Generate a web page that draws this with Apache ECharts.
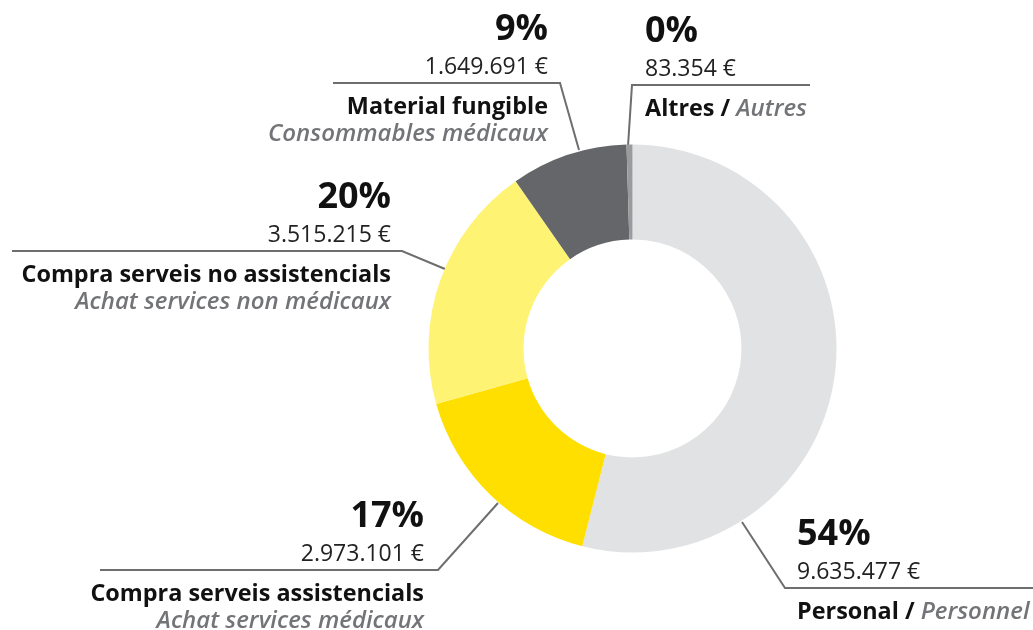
<!DOCTYPE html>
<html>
<head>
<meta charset="utf-8">
<script src="https://cdn.jsdelivr.net/npm/echarts@6/dist/echarts.min.js"></script>
<style>
html,body{margin:0;padding:0;background:#fff;}
#chart{width:1033px;height:630px;}
</style>
</head>
<body>
<div id="chart"></div>
<script>
// ---- data ----
const catNames = ['Personal', 'Compra serveis assistencials', 'Compra serveis no assistencials', 'Material fungible', 'Altres'];
const frNames = ['Personnel', 'Achat services médicaux', 'Achat services non médicaux', 'Consommables médicaux', 'Autres'];
const values = [9635477, 2973101, 3515215, 1649691, 83354];
const colors = ['#e1e2e3', '#ffdf00', '#fff374', '#646669', '#9a9b9c'];
const inlineFr = [true, false, false, false, true];

// ---- layout (label anchors) ----
const labelPos = [
  { L: 588, x: 797, align: 'left',  pts: [[742, 522], [785, 588], [1033, 588]] },
  { L: 570, x: 424, align: 'right', pts: [[498, 503], [438, 570], [100, 570]] },
  { L: 251, x: 391, align: 'right', pts: [[445, 269], [402, 251], [12, 251]] },
  { L: 83,  x: 548, align: 'right', pts: [[579, 150], [560, 83], [333, 83]] },
  { L: 85,  x: 645, align: 'left',  pts: [[628, 146], [632, 85], [810, 85]] }
];

const FONT = '"Open Sans", "Noto Sans", sans-serif';
const total = values.reduce((a, b) => a + b, 0);
function fmt(v) { return String(v).replace(/\B(?=(\d{3})+(?!\d))/g, '.') + ' €'; }

function rich(align) {
  return {
    p: { fontFamily: FONT, fontSize: 36, fontWeight: 'bold', color: '#111', lineHeight: 21, align: align },
    v: { fontFamily: FONT, fontSize: 23, color: '#222', lineHeight: 53, align: align },
    n: { fontFamily: FONT, fontSize: 23.4, fontWeight: 'bold', color: '#111', lineHeight: 27, align: align },
    f: { fontFamily: FONT, fontSize: 24, fontStyle: 'italic', fontWeight: 600, color: '#737477', lineHeight: 27, align: align }
  };
}

const data = values.map((v, i) => {
  const pct = Math.round(v / total * 100) + '%';
  let txt = '{p|' + pct + '}\n{v|' + fmt(v) + '}\n';
  if (inlineFr[i]) txt += '{n|' + catNames[i] + ' / }{f|' + frNames[i] + '}';
  else txt += '{n|' + catNames[i] + '}\n{f|' + frNames[i] + '}';
  return {
    name: catNames[i],
    value: v,
    itemStyle: { color: colors[i] },
    label: { formatter: txt, rich: rich(labelPos[i].align), width: 440, overflow: 'none' }
  };
});

const chart = echarts.init(document.getElementById('chart'), null, { renderer: 'canvas' });
chart.setOption({
  backgroundColor: '#fff',
  animation: false,
  series: [{
    type: 'pie',
    center: [632.5, 348.5],
    radius: [109, 204],
    startAngle: 90,
    clockwise: true,
    avoidLabelOverlap: false,
    silent: true,
    itemStyle: { borderWidth: 0 },
    label: { show: true, position: 'outside', width: 440, overflow: 'none' },
    labelLine: { show: true, smooth: false, lineStyle: { color: '#6d6e70', width: 2 } },
    labelLayout: function (params) {
      const p = labelPos[params.dataIndex];
      return {
        x: p.x,
        y: p.L - 63.5,
        align: p.align,
        verticalAlign: 'top',
        labelLinePoints: p.pts
      };
    },
    data: data
  }]
});
</script>
</body>
</html>
